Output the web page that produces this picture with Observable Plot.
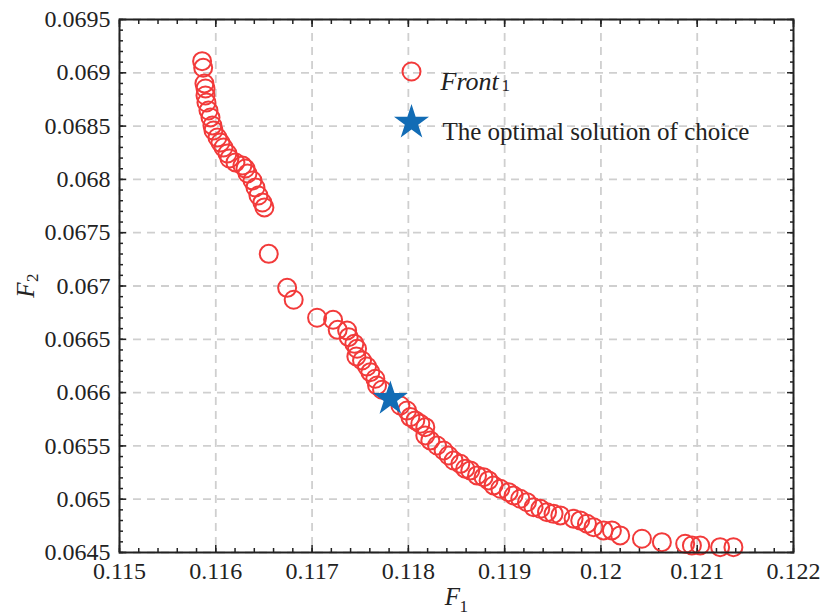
<!DOCTYPE html>
<html>
<head>
<meta charset="utf-8">
<script src="https://cdn.jsdelivr.net/npm/d3@7"></script>
<script src="https://cdn.jsdelivr.net/npm/@observablehq/plot@0.6"></script>
<style>
  html, body { margin: 0; padding: 0; background: #fff; }
  #chart svg, #chart svg text { font-family: "Liberation Serif", "Times New Roman", serif !important; }
</style>
</head>
<body>
<div id="chart"></div>
<script>
// Pareto front (Front_1): F1 values and F2 values
const f1 = [
  0.115858, 0.115869, 0.115882, 0.115893, 0.115893, 0.115903, 0.115924, 0.115945,
  0.115965, 0.115976, 0.116017, 0.116048, 0.11608, 0.116121, 0.116142, 0.116204,
  0.116277, 0.116308, 0.116329, 0.116381, 0.116412, 0.116443, 0.116484, 0.116505,
  0.11655, 0.116741, 0.116809, 0.117052, 0.117218, 0.117266, 0.117364, 0.11738,
  0.117439, 0.117467, 0.11746, 0.117519, 0.117571, 0.117605, 0.117657, 0.117675,
  0.117727, 0.117917, 0.117986, 0.118021, 0.118124, 0.118176, 0.118072, 0.118176,
  0.118228, 0.118298, 0.118366, 0.118418, 0.11847, 0.11854, 0.118591, 0.118643,
  0.118713, 0.118781, 0.118833, 0.118885, 0.118955, 0.119041, 0.119093, 0.119162,
  0.119232, 0.1193, 0.11937, 0.11944, 0.119508, 0.119578, 0.119716, 0.119785,
  0.119855, 0.119923, 0.120027, 0.120114, 0.1202, 0.120426, 0.120633, 0.120875,
  0.120945, 0.121031, 0.121238, 0.121376
];
const f2 = [
  0.069109, 0.069047, 0.0689, 0.068853, 0.068787, 0.068721, 0.068646, 0.068581,
  0.068506, 0.068459, 0.068393, 0.068346, 0.068299, 0.068243, 0.068196, 0.068159,
  0.06813, 0.068102, 0.068055, 0.06799, 0.067924, 0.067849, 0.067783, 0.067737,
  0.067302, 0.066983, 0.066871, 0.066702, 0.066683, 0.066589, 0.066583, 0.06652,
  0.066458, 0.066411, 0.066339, 0.066301, 0.066245, 0.066192, 0.06613, 0.066067,
  0.066027, 0.065879, 0.065832, 0.06577, 0.065708, 0.065676, 0.065739, 0.065598,
  0.065551, 0.065504, 0.065457, 0.06541, 0.065363, 0.065332, 0.065286, 0.06527,
  0.065223, 0.065207, 0.065176, 0.065129, 0.065098, 0.065066, 0.065035, 0.065004,
  0.064972, 0.064925, 0.06491, 0.064878, 0.064863, 0.064848, 0.064817, 0.064801,
  0.06477, 0.064738, 0.064707, 0.064707, 0.06466, 0.064629, 0.064597, 0.064582,
  0.064566, 0.064566, 0.06455, 0.06455
];
// The optimal solution of choice
const bestF1 = [0.117813];
const bestF2 = [0.065942];

// Tick values
const xMajor = [0.115, 0.116, 0.117, 0.118, 0.119, 0.12, 0.121, 0.122];
const yMajor = [0.0645, 0.065, 0.0655, 0.066, 0.0665, 0.067, 0.0675, 0.068, 0.0685, 0.069, 0.0695];
const xMinor = d3.range(0, 36).map(i => 0.115 + i * 0.0002);
const yMinor = d3.range(0, 51).map(i => 0.0645 + i * 0.0001);

const legendLabels = ["Front", "1", "The optimal solution of choice"];
const axisLabels = ["F", "1", "F", "2"];

const front = f1.map((x, i) => ({x, y: f2[i]}));
const best = bestF1.map((x, i) => ({x, y: bestF2[i]}));

const RED = "#f23a3a";
const BLUE = "#126cb5";
const FONT = "Liberation Serif";
const fmt = d => String(+d.toFixed(5));
const tickStyle = {strokeWidth: 1.5, stroke: "#222", tickFormat: () => "", label: null};

const chart = Plot.plot({
  width: 823,
  height: 614,
  marginLeft: 119,
  marginRight: 30,
  marginTop: 19,
  marginBottom: 62,
  style: {fontFamily: FONT, fontSize: "24px", color: "#222", background: "#fff"},
  x: {domain: [0.115, 0.122], label: null},
  y: {domain: [0.0645, 0.0695], label: null},
  marks: [
    Plot.gridX(xMajor, {stroke: "#cfcfcf", strokeOpacity: 1, strokeWidth: 1.8, strokeDasharray: "8,6"}),
    Plot.gridY(yMajor, {stroke: "#cfcfcf", strokeOpacity: 1, strokeWidth: 1.8, strokeDasharray: "8,6"}),
    // minor ticks (inward) on all sides
    Plot.axisX(xMinor, {anchor: "bottom", tickSize: -4, ...tickStyle}),
    Plot.axisX(xMinor, {anchor: "top", tickSize: -4, ...tickStyle}),
    Plot.axisY(yMinor, {anchor: "left", tickSize: -4, ...tickStyle}),
    Plot.axisY(yMinor, {anchor: "right", tickSize: -4, ...tickStyle}),
    // major ticks (inward)
    Plot.axisX(xMajor, {anchor: "bottom", tickSize: -7, ...tickStyle}),
    Plot.axisX(xMajor, {anchor: "top", tickSize: -7, ...tickStyle}),
    Plot.axisY(yMajor, {anchor: "left", tickSize: -7, ...tickStyle}),
    Plot.axisY(yMajor, {anchor: "right", tickSize: -7, ...tickStyle}),
    // tick labels
    Plot.axisX(xMajor, {anchor: "bottom", tickSize: 0, tickPadding: 9, tickFormat: fmt, fontSize: 24, fontFamily: FONT, fill: "#222", label: null}),
    Plot.axisY(yMajor, {anchor: "left", tickSize: 0, tickPadding: 9, tickFormat: fmt, fontSize: 24, fontFamily: FONT, fill: "#222", label: null}),
    // data
    Plot.dot(front, {x: "x", y: "y", r: 9, stroke: RED, strokeWidth: 2, fill: "none"}),
    Plot.dot(best, {x: "x", y: "y", symbol: "star", r: 11, fill: BLUE, stroke: "none"}),
    Plot.frame({stroke: "#222", strokeWidth: 2}),
    // legend
    Plot.dot([0], {frameAnchor: "top-left", dx: 292, dy: 52, r: 9, stroke: RED, strokeWidth: 2, fill: "none"}),
    Plot.dot([0], {frameAnchor: "top-left", dx: 292, dy: 103, symbol: "star", r: 11, fill: BLUE, stroke: "none"}),
    Plot.text([legendLabels[0]], {frameAnchor: "top-left", dx: 321, dy: 52, text: d => d, textAnchor: "start", fontStyle: "italic", fontFamily: FONT, fontSize: 26, fill: "#222"}),
    Plot.text([legendLabels[1]], {frameAnchor: "top-left", dx: 382, dy: 59, text: d => d, textAnchor: "start", fontFamily: FONT, fontSize: 17, fill: "#222"}),
    Plot.text([legendLabels[2]], {frameAnchor: "top-left", dx: 323, dy: 103, text: d => d, textAnchor: "start", fontFamily: FONT, fontSize: 25, fill: "#222"}),
    // axis labels
    Plot.text([axisLabels[0]], {frameAnchor: "bottom-left", dx: 333, dy: 52, text: d => d, textAnchor: "middle", fontStyle: "italic", fontFamily: FONT, fontSize: 25, fill: "#222"}),
    Plot.text([axisLabels[1]], {frameAnchor: "bottom-left", dx: 340, dy: 59, text: d => d, textAnchor: "start", fontFamily: FONT, fontSize: 17, fill: "#222"}),
    Plot.text([axisLabels[2]], {frameAnchor: "left", dx: -94, dy: 4, rotate: -90, text: d => d, textAnchor: "middle", fontStyle: "italic", fontFamily: FONT, fontSize: 25, fill: "#222"}),
    Plot.text([axisLabels[3]], {frameAnchor: "left", dx: -87, dy: -4, rotate: -90, text: d => d, textAnchor: "start", fontFamily: FONT, fontSize: 17, fill: "#222"})
  ]
});
document.getElementById("chart").appendChild(chart);
</script>
</body>
</html>
